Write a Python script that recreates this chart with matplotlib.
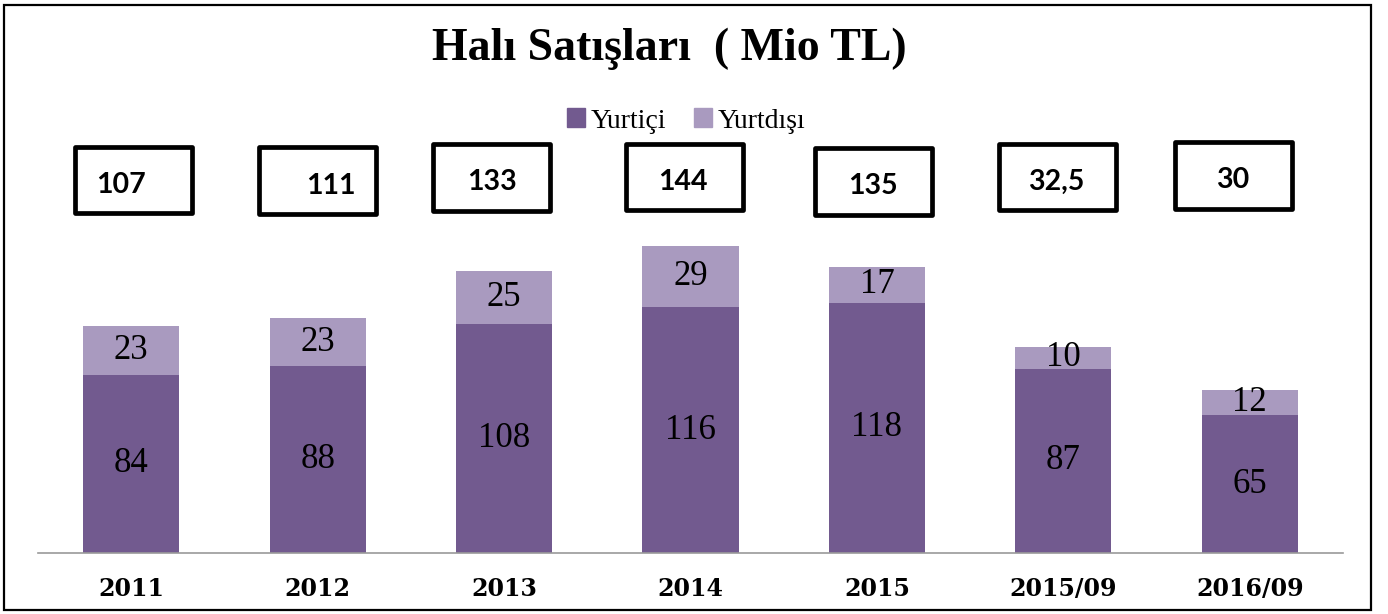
import matplotlib
matplotlib.use("Agg")
import matplotlib.pyplot as plt
import numpy as np
from matplotlib.patches import Rectangle, Patch

# data
categories = ["2011", "2012", "2013", "2014", "2015", "2015/09", "2016/09"]
yurtici = [84, 88, 108, 116, 118, 87, 65]
yurtdisi = [23, 23, 25, 29, 17, 10, 12]
box_labels = ["107", "111", "133", "144", "135", "32,5", "30"]

c_dark = "#725A8F"
c_light = "#A99ABF"

W, H = 1388, 614
fig = plt.figure(figsize=(W / 100, H / 100), dpi=100)

# axes placed in pixels: x 38..1343, baseline at y=553
px_per_unit = 2.12
ymax = 215
ax_left, ax_right, base = 38, 1343, 553
ax_top = base - ymax * px_per_unit
ax = fig.add_axes([ax_left / W, (H - base) / H, (ax_right - ax_left) / W, (base - ax_top) / H])

x = np.arange(len(categories))
b1 = ax.bar(x, yurtici, width=0.515, color=c_dark, label="Yurtiçi")
b2 = ax.bar(x, yurtdisi, width=0.515, bottom=yurtici, color=c_light, label="Yurtdışı")
ax.bar_label(b1, label_type="center", fontsize=25, family="Liberation Serif")
ax.bar_label(b2, label_type="center", fontsize=25, family="Liberation Serif")

ax.set_xlim(-0.5, len(categories) - 0.5)
ax.set_ylim(0, ymax)
for s in ["top", "right", "left"]:
    ax.spines[s].set_visible(False)
ax.spines["bottom"].set_color("#9a9a9a")
ax.spines["bottom"].set_linewidth(1.2)
ax.set_yticks([])
ax.set_xticks(x)
ax.set_xticklabels(categories, fontsize=17, fontweight="bold", family="DejaVu Serif")
ax.tick_params(axis="x", length=0, pad=17)

# hand-drawn total boxes (offsets in pixels from each category centre)
slot = (ax_right - ax_left) / len(categories)
box_dx = [2, 0, -12.5, -6, -3, -6, -16]
box_cy = [180, 180.5, 177.5, 177, 181.5, 177, 175.5]
txt_dx = [-12, 13.5, 0, -1.5, -1, -1, -1]
bw, bh = 117, 66
for i, lab in enumerate(box_labels):
    cx = ax_left + slot * (i + 0.5) + box_dx[i]
    cy = box_cy[i]
    rect = Rectangle(((cx - bw / 2) / W, 1 - (cy + bh / 2) / H), bw / W, bh / H,
                     transform=fig.transFigure, fill=False, edgecolor="black",
                     linewidth=3.4, joinstyle="round")
    fig.patches.append(rect)
    fig.text((cx + txt_dx[i]) / W, 1 - (cy + 5) / H, lab, ha="center", va="center",
             fontsize=20.5, fontweight="bold", family="Lato")

fig.text(669 / W, 1 - 49 / H, "Halı Satışları  ( Mio TL)", ha="center", va="center",
         fontsize=33, fontweight="bold", family="Liberation Serif")

handles = [Patch(color=c_dark, label="Yurtiçi"), Patch(color=c_light, label="Yurtdışı")]
fig.legend(handles=handles, loc="center", bbox_to_anchor=(686 / W, 1 - 121 / H), ncol=2,
           frameon=False, handlelength=0.65, handleheight=0.65, handletextpad=0.2,
           columnspacing=1.0, prop={"family": "Liberation Serif", "size": 20})

# outer frame
fig.patches.append(Rectangle((4 / W, 4 / H), 1367 / W, 605 / H, transform=fig.transFigure,
                             fill=False, edgecolor="black", linewidth=1.6))

fig.savefig("out.png", dpi=100)
